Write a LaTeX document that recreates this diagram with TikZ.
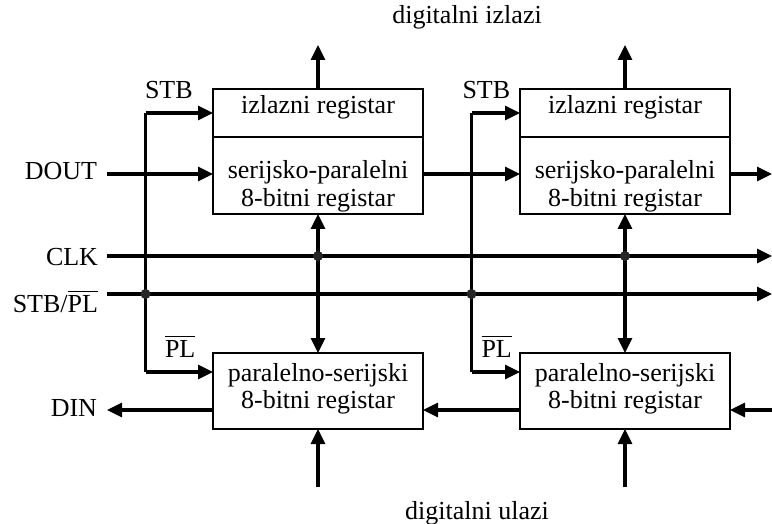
\documentclass[tikz,border=0pt]{standalone}
\usepackage{fontspec}
\setmainfont{Liberation Serif}
\usetikzlibrary{arrows.meta}

% bar over a signal name, e.g. active-low inputs
\newcommand\lowact[1]{\vbox{\hrule height 1.3pt\kern 3.5pt\hbox{#1}}}

\begin{document}
\begin{tikzpicture}[x=1pt,y=-1pt,
  every node/.style={font=\fontsize{26}{29.5}\selectfont, inner sep=0pt, outer sep=0pt},
  regbox/.style={draw, line width=2pt, minimum width=210pt, anchor=north west},
  txt/.style={anchor=base},
  wire/.style={line width=2.2pt},
  arr/.style={line width=3.2pt, -{Triangle[length=15pt,width=14pt]}},
  darr/.style={line width=3.2pt, {Triangle[length=15pt,width=14pt]}-{Triangle[length=15pt,width=14pt]}},
  dot/.style={circle, fill=black!85, minimum size=10pt}]
\useasboundingbox (0,0) rectangle (772,524);

% ---- register blocks ----
\node[regbox, minimum height=48pt] (izl1) at (213,89) {};
\node[regbox, minimum height=77pt] (sp1)  at (213,137) {};
\node[regbox, minimum height=48pt] (izl2) at (520,89) {};
\node[regbox, minimum height=77pt] (sp2)  at (520,137) {};
\node[regbox, minimum height=76pt] (ps1)  at (213,353) {};
\node[regbox, minimum height=76pt] (ps2)  at (520,353) {};

% ---- block captions ----
\node[txt] (c1a) at (318,114)   {izlazni registar};
\node[txt] (c1b) at (318,179)   {serijsko-paralelni};
\node[txt] (c1c) at (318,206.5) {8-bitni registar};
\node[txt] (c2a) at (625,114)   {izlazni registar};
\node[txt] (c2b) at (625,179)   {serijsko-paralelni};
\node[txt] (c2c) at (625,206.5) {8-bitni registar};
\node[txt] (c3a) at (318,381)   {paralelno-serijski};
\node[txt] (c3b) at (318,408.5) {8-bitni registar};
\node[txt] (c4a) at (625,381)   {paralelno-serijski};
\node[txt] (c4b) at (625,408.5) {8-bitni registar};

% ---- signal names ----
\node[txt] (lout) at (467,24)  {digitalni izlazi};
\node[txt] (lin)  at (477,519.5) {digitalni ulazi};
\node[anchor=base east] (ldout) at (97,179.5) {DOUT};
\node[anchor=base east] (lclk)  at (98,265.5) {CLK};
\node[anchor=base east] (lspl)  at (98,312.5) {STB/\lowact{PL}};
\node[anchor=base east] (ldin)  at (97,416.5) {DIN};
\node[anchor=base west] (lstb1) at (145,98.3) {STB};
\node[anchor=base west] (lstb2) at (462.5,98.3) {STB};
\node[anchor=base west] (lpl1)  at (165,357.5) {\lowact{PL}};
\node[anchor=base west] (lpl2)  at (481.5,357.5) {\lowact{PL}};

% ---- free ends of the lines ----
\coordinate (doutin) at (107,174);
\coordinate (spout)  at (772,174);
\coordinate (q1) at (318,45);
\coordinate (q2) at (625,45);
\coordinate (d1) at (318,487);
\coordinate (d2) at (625,487);
\coordinate (clka) at (107,256);
\coordinate (clkb) at (772,256);
\coordinate (spla) at (107,294);
\coordinate (splb) at (772,294);
\coordinate (dinout) at (107,410);
\coordinate (serin)  at (772,410);
\coordinate (s1t) at (145.5,113);
\coordinate (s1b) at (145.5,372);
\coordinate (s2t) at (471.5,113);
\coordinate (s2b) at (471.5,372);
\coordinate (k1) at (318,256);
\coordinate (k2) at (625,256);

% ---- clock and strobe buses ----
\draw[arr] (clka) -- (clkb);
\draw[arr] (spla) -- (splb);

% ---- strobe / parallel load taps ----
\draw[wire] (s1t) -- (s1b);
\draw[wire] (s2t) -- (s2b);
\draw[arr] (s1t) -- (s1t -| izl1.west);
\draw[arr] (s2t) -- (s2t -| izl2.west);
\draw[arr] (s1b) -- (s1b -| ps1.west);
\draw[arr] (s2b) -- (s2b -| ps2.west);

% ---- clock taps ----
\draw[darr] (sp1.south -| k1) -- (ps1.north -| k1);
\draw[darr] (sp2.south -| k2) -- (ps2.north -| k2);

% ---- serial chain out ----
\draw[arr] (doutin) -- (doutin -| sp1.west);
\draw[arr] (doutin -| sp1.east) -- (doutin -| sp2.west);
\draw[arr] (doutin -| sp2.east) -- (spout);

% ---- serial chain in ----
\draw[arr] (serin) -- (serin -| ps2.east);
\draw[arr] (serin -| ps2.west) -- (serin -| ps1.east);
\draw[arr] (serin -| ps1.west) -- (dinout);

% ---- parallel outputs and inputs ----
\draw[arr] (izl1.north -| q1) -- (q1);
\draw[arr] (izl2.north -| q2) -- (q2);
\draw[arr] (d1) -- (d1 |- ps1.south);
\draw[arr] (d2) -- (d2 |- ps2.south);

% ---- junctions ----
\node[dot] (j1) at (k1) {};
\node[dot] (j2) at (k2) {};
\node[dot] (j3) at (s1t |- spla) {};
\node[dot] (j4) at (s2t |- spla) {};
\end{tikzpicture}
\end{document}
